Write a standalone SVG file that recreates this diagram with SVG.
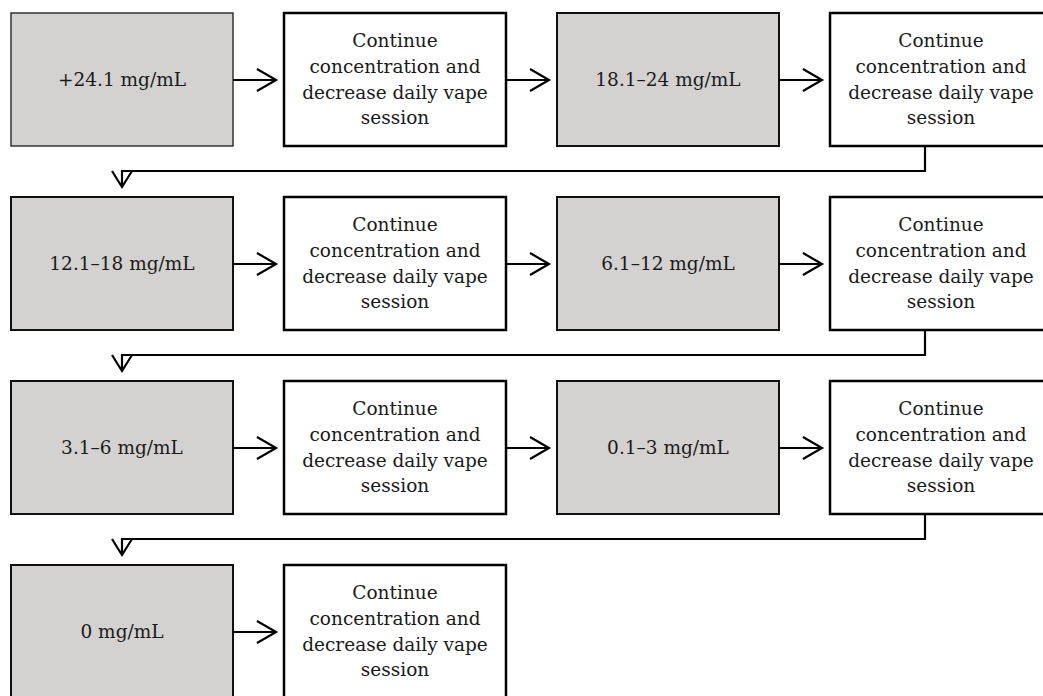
<svg xmlns="http://www.w3.org/2000/svg" width="1043" height="696" viewBox="0 0 1043 696">
<defs>
<style>
.g{fill:#d3d2d0;stroke:#111;stroke-width:2}
.w{fill:#fff;stroke:#000;stroke-width:2.5}
text{font-family:"DejaVu Serif","Liberation Serif",serif;font-size:18.5px;fill:#1a1a1a;text-anchor:middle}
.c{fill:none;stroke:#000;stroke-width:2.2}
</style>
</defs>
<rect width="1043" height="696" fill="#fff"/>

<g id="n1"><rect class="g" x="11" y="13" width="222" height="133" style="stroke:#333;stroke-width:1.5"/><text x="122" y="86">+24.1 mg/mL</text></g>
<g id="n2"><rect class="w" x="284" y="13" width="222" height="133"/><text x="395" y="47">Continue</text><text x="395" y="73">concentration and</text><text x="395" y="98.5">decrease daily vape</text><text x="395" y="124">session</text></g>
<g id="n3"><rect class="g" x="557" y="13" width="222" height="133"/><text x="668" y="86">18.1–24 mg/mL</text></g>
<g id="n4"><rect class="w" x="830" y="13" width="222" height="133"/><text x="941" y="47">Continue</text><text x="941" y="73">concentration and</text><text x="941" y="98.5">decrease daily vape</text><text x="941" y="124">session</text></g>

<g id="n5"><rect class="g" x="11" y="197" width="222" height="133"/><text x="122" y="270">12.1–18 mg/mL</text></g>
<g id="n6"><rect class="w" x="284" y="197" width="222" height="133"/><text x="395" y="231">Continue</text><text x="395" y="257">concentration and</text><text x="395" y="282.5">decrease daily vape</text><text x="395" y="308">session</text></g>
<g id="n7"><rect class="g" x="557" y="197" width="222" height="133"/><text x="668" y="270">6.1–12 mg/mL</text></g>
<g id="n8"><rect class="w" x="830" y="197" width="222" height="133"/><text x="941" y="231">Continue</text><text x="941" y="257">concentration and</text><text x="941" y="282.5">decrease daily vape</text><text x="941" y="308">session</text></g>

<g id="n9"><rect class="g" x="11" y="381" width="222" height="133"/><text x="122" y="454">3.1–6 mg/mL</text></g>
<g id="n10"><rect class="w" x="284" y="381" width="222" height="133"/><text x="395" y="415">Continue</text><text x="395" y="441">concentration and</text><text x="395" y="466.5">decrease daily vape</text><text x="395" y="492">session</text></g>
<g id="n11"><rect class="g" x="557" y="381" width="222" height="133"/><text x="668" y="454">0.1–3 mg/mL</text></g>
<g id="n12"><rect class="w" x="830" y="381" width="222" height="133"/><text x="941" y="415">Continue</text><text x="941" y="441">concentration and</text><text x="941" y="466.5">decrease daily vape</text><text x="941" y="492">session</text></g>

<g id="n13"><rect class="g" x="11" y="565" width="222" height="133"/><text x="122" y="638">0 mg/mL</text></g>
<g id="n14"><rect class="w" x="284" y="565" width="222" height="133"/><text x="395" y="599">Continue</text><text x="395" y="625">concentration and</text><text x="395" y="650.5">decrease daily vape</text><text x="395" y="676">session</text></g>

<g id="connectors">
<path class="c" d="M233 80H276M257 69L276 80L257 91"/>
<path class="c" d="M506 80H549M530 69L549 80L530 91"/>
<path class="c" d="M779 80H822M803 69L822 80L803 91"/>
<path class="c" d="M233 264H276M257 253L276 264L257 275"/>
<path class="c" d="M506 264H549M530 253L549 264L530 275"/>
<path class="c" d="M779 264H822M803 253L822 264L803 275"/>
<path class="c" d="M233 448H276M257 437L276 448L257 459"/>
<path class="c" d="M506 448H549M530 437L549 448L530 459"/>
<path class="c" d="M779 448H822M803 437L822 448L803 459"/>
<path class="c" d="M233 632H276M257 621L276 632L257 643"/>
<path class="c" d="M925 146V171H122V187M112 171L122 187L132 171"/>
<path class="c" d="M925 330V355H122V371M112 355L122 371L132 355"/>
<path class="c" d="M925 514V539H122V555M112 539L122 555L132 539"/>
</g>
</svg>
